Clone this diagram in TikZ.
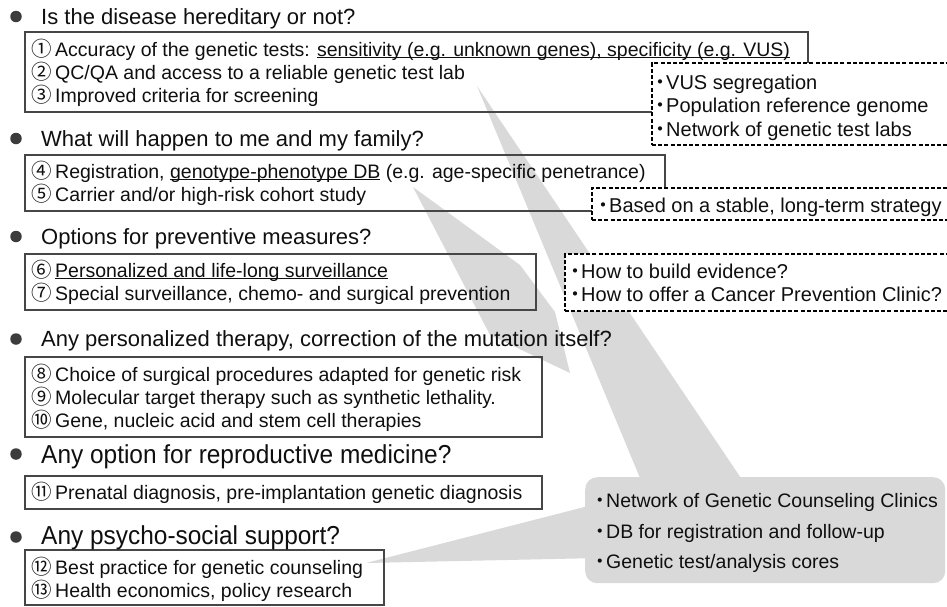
\documentclass[tikz,border=0pt]{standalone}
\usepackage{fontspec}
\setmainfont{Liberation Sans}
\newfontfamily\headfont[FakeStretch=0.94]{Liberation Sans}
\newfontfamily\cjkfont{Noto Sans CJK JP}
\newcommand\circnum[1]{\makebox[22pt][l]{\kern-1.5pt\cjkfont\fontsize{20.5}{20}\selectfont #1}}
\newcommand\kdot{\makebox[12pt][c]{\cjkfont ・}}
\newcommand\myul[1]{\setbox0\hbox{#1}\rlap{\rule[-0.1em]{\wd0}{0.06em}}\box0\relax}
\definecolor{callgray}{RGB}{217,217,217}
\definecolor{linegray}{RGB}{70,70,70}
\definecolor{dotgray}{RGB}{60,60,60}
\definecolor{txt}{RGB}{15,15,15}
\begin{document}
\begin{tikzpicture}[x=1pt,y=-1pt,
  bul/.style={circle,fill=dotgray,inner sep=0pt,minimum size=11.5pt},
  head/.style={anchor=base west,inner sep=0pt,text=txt,font=\fontsize{22}{26}\selectfont},
  headL/.style={head,font=\headfont\fontsize{26}{30}\selectfont},
  itm/.style={anchor=base west,inner sep=0pt,text=txt,font=\fontsize{19.5}{24}\selectfont},
  note/.style={itm,font=\fontsize{20}{24}\selectfont},
  cnote/.style={itm,font=\fontsize{19.5}{24}\selectfont},
  sbox/.style={draw=linegray,line width=1.3pt,anchor=north west,inner sep=0pt,outer sep=0pt},
  dbox/.style={draw=black,fill=white,line width=1.1pt,dash pattern=on 4pt off 2.2pt,anchor=north west,inner sep=0pt,outer sep=0pt},
  callout/.style={fill=callgray}]
\useasboundingbox (0,0) rectangle (947,606);
% callout shape
\node[callout,rounded corners=12pt,anchor=north west,inner sep=0pt,minimum width=360pt,minimum height=106pt] (cbox) at (585,477) {};
\coordinate (tipA) at (477,86);
\coordinate (tipB) at (413,187);
\coordinate (tipC) at (366,563);
\fill[callout] (tipA) -- (749,490) -- (645,490) -- cycle;
\fill[callout] (tipB) -- (520,265) -- (555,312) -- (570,373) -- (490,335) -- cycle;
\fill[callout] (tipC) -- (600,503) -- (600,558) -- cycle;
% solid boxes
\node[sbox,minimum width=783pt,minimum height=80pt] (b1) at (25,32) {};
\node[sbox,minimum width=640pt,minimum height=56pt] (b2) at (25,155) {};
\node[sbox,minimum width=511pt,minimum height=56pt] (b3) at (25,254) {};
\node[sbox,minimum width=517pt,minimum height=80pt] (b4) at (25,357) {};
\node[sbox,minimum width=517pt,minimum height=33pt] (b5) at (25,476) {};
\node[sbox,minimum width=359pt,minimum height=55pt] (b6) at (25,550) {};
% dashed boxes
\node[dbox,minimum width=297pt,minimum height=82pt] (d1) at (652,63) {};
\node[dbox,minimum width=357pt,minimum height=32pt] (d2) at (592,188) {};
\node[dbox,minimum width=384pt,minimum height=57pt] (d3) at (565,254) {};
% bullets and headings
\node[bul] (p1) at (16,16.5) {};
\node[head] (h1) at (41,24) {Is the disease hereditary or not?};
\node[bul] (p2) at (16,138.5) {};
\node[head] (h2) at (41,146) {What will happen to me and my family?};
\node[bul] (p3) at (16,236.5) {};
\node[head] (h3) at (41,244) {Options for preventive measures?};
\node[bul] (p4) at (16,339) {};
\node[head] (h4) at (41,346.5) {Any personalized therapy, correction of the mutation itself?};
\node[bul] (p5) at (16,454) {};
\node[headL] (h5) at (41,463.5) {Any option for reproductive medicine?};
\node[bul] (p6) at (16,537) {};
\node[headL] (h6) at (41,544.5) {Any psycho-social support?};
% items
\node[itm] (i1) at (33,56) {\circnum{①}Accuracy of the genetic tests: \myul{sensitivity (e.g. unknown genes), specificity (e.g. VUS)}};
\node[itm] (i2) at (33,79.2) {\circnum{②}QC/QA and access to a reliable genetic test lab};
\node[itm] (i3) at (33,102.5) {\circnum{③}Improved criteria for screening};
\node[itm] (i4) at (33,178) {\circnum{④}Registration, \myul{genotype-phenotype DB} (e.g. age-specific penetrance)};
\node[itm] (i5) at (33,201.5) {\circnum{⑤}Carrier and/or high-risk cohort study};
\node[itm] (i6) at (33,277.5) {\circnum{⑥}\myul{Personalized and life-long surveillance}};
\node[itm] (i7) at (33,300.7) {\circnum{⑦}Special surveillance, chemo- and surgical prevention};
\node[itm] (i8) at (33,381) {\circnum{⑧}Choice of surgical procedures adapted for genetic risk};
\node[itm] (i9) at (33,404.2) {\circnum{⑨}Molecular target therapy such as synthetic lethality.};
\node[itm] (i10) at (33,427.5) {\circnum{⑩}Gene, nucleic acid and stem cell therapies};
\node[itm] (i11) at (33,499.5) {\circnum{⑪}Prenatal diagnosis, pre-implantation genetic diagnosis};
\node[itm] (i12) at (33,574.5) {\circnum{⑫}Best practice for genetic counseling};
\node[itm] (i13) at (33,597.5) {\circnum{⑬}Health economics, policy research};
% dashed box texts
\node[note] (t1a) at (654,89) {\kdot VUS segregation};
\node[note] (t1b) at (654,112.5) {\kdot Population reference genome};
\node[note] (t1c) at (654,136) {\kdot Network of genetic test labs};
\node[note] (t2) at (597,212) {\kdot Based on a stable, long-term strategy};
\node[note] (t3a) at (569,278) {\kdot How to build evidence?};
\node[note] (t3b) at (569,301.5) {\kdot How to offer a Cancer Prevention Clinic?};
% callout texts
\node[cnote] (g1) at (594,507) {\kdot Network of Genetic Counseling Clinics};
\node[cnote] (g2) at (594,538) {\kdot DB for registration and follow-up};
\node[cnote] (g3) at (594,568) {\kdot Genetic test/analysis cores};
\end{tikzpicture}
\end{document}
